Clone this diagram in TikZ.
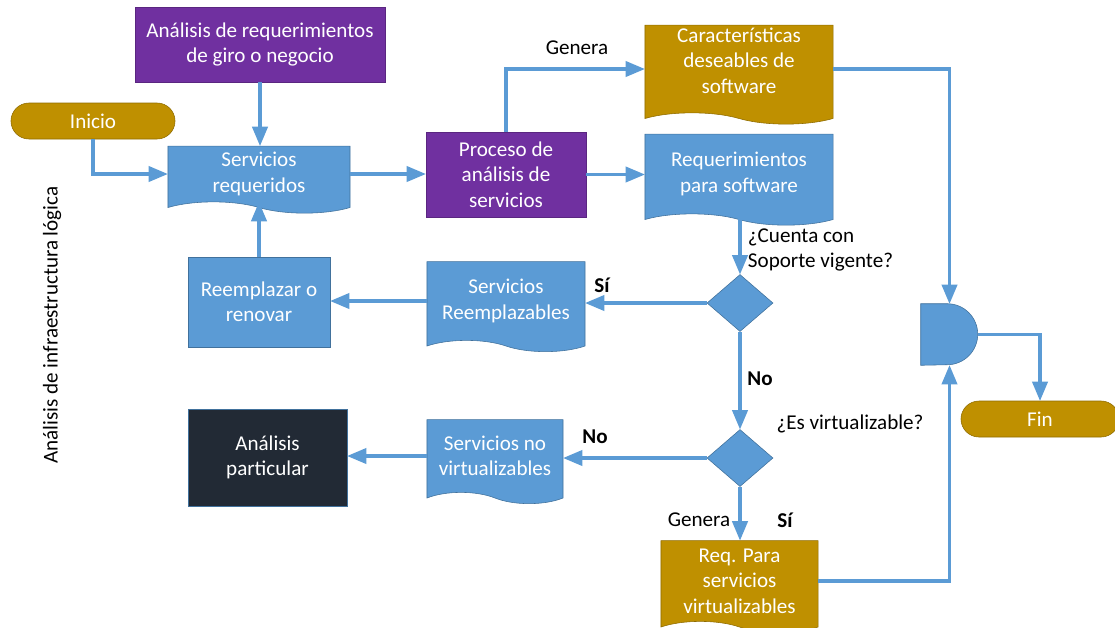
\documentclass[tikz,border=0pt]{standalone}
\usepackage{fontspec}
\setmainfont{Carlito}
\usetikzlibrary{arrows,shapes.geometric,shapes.symbols,positioning}
\definecolor{azul}{HTML}{5B9BD5}
\definecolor{azulborde}{HTML}{41719C}
\definecolor{morado}{HTML}{7030A0}
\definecolor{oro}{HTML}{BF9000}
\definecolor{oroborde}{HTML}{8F6C00}
\definecolor{oscuro}{HTML}{222A35}
\tikzset{
	>=triangle 45,
	caja/.style={
		rectangle,
		draw=azulborde,
		fill=azul,
		text=white,
		align=center,
		inner sep=2pt,
		font=\fontsize{15}{18}\selectfont},
	proceso/.style={caja, fill=morado, draw=morado!80!black},
	documento/.style={
		caja,
		tape,
		tape bend top=none,
		tape bend bottom=out and in,
		tape bend height=8pt},
	terminal/.style={
		caja,
		fill=oro,
		draw=oroborde,
		rounded corners=0.45cm,
		minimum width=4.1cm,
		minimum height=0.9cm},
	decision/.style={
		diamond,
		draw=azulborde,
		fill=azul,
		inner sep=0pt,
		minimum width=1.65cm,
		minimum height=1.425cm},
	linea/.style={draw=azul, line width=2.2pt, ->},
	etiqueta/.style={align=left, font=\fontsize{15}{18}\selectfont},
	negrita/.style={etiqueta, font=\fontsize{15}{18}\selectfont\bfseries},
}

\begin{document}
\begin{tikzpicture}[x=0.025cm, y=-0.025cm]
\useasboundingbox (0,0) rectangle (1115,627);

\node[proceso, minimum width=6.25cm, minimum height=1.875cm] (areq) at (260,44.5) {Análisis de requerimientos\\de giro o negocio};
\node[terminal] (inicio) at (93,121) {Inicio};
\node[documento, minimum width=4.55cm, minimum height=1.675cm] (sreq) at (259,174) {Servicios\\requeridos};
\node[proceso, minimum width=4cm, minimum height=2.125cm] (proc) at (506,174.5) {Proceso de\\análisis de\\servicios};
\node[documento, fill=oro, draw=oroborde, minimum width=4.7cm, minimum height=2cm] (carac) at (739,69) {Características\\deseables de\\software\\[-6pt]};
\node[documento, minimum width=4.7cm, minimum height=2.275cm] (reqsw) at (739,174) {Requerimientos\\para software};
\node[decision] (d1) at (740,303) {};
\node[documento, minimum width=3.95cm, minimum height=2.25cm] (srem) at (506,301) {Servicios\\Reemplazables};
\node[caja, minimum width=3.55cm, minimum height=2.25cm] (rren) at (259,302) {Reemplazar o\\renovar};
\node[decision] (d2) at (740,458) {};
\node[documento, minimum width=3.4cm, minimum height=2.1cm] (snv) at (495,456) {Servicios no\\virtualizables};
\node[caja, fill=oscuro, minimum width=3.975cm, minimum height=2.425cm] (apart) at (267.5,457.5) {Análisis\\particular};
\node[documento, fill=oro, draw=oroborde, minimum width=3.925cm, minimum height=2.3cm] (rpv) at (739.5,581) {Req. Para\\servicios\\virtualizables};
\node[minimum width=1.425cm, minimum height=1.525cm, inner sep=0pt] (gate) at (949.5,334.5) {};
\node[terminal, minimum width=3.95cm] (fin) at (1040,419) {Fin};

\fill[azul, draw=azulborde] (gate.south west) -- (gate.north west) -- ++(0.6625cm,0)
	arc[start angle=90, end angle=-90, radius=0.7625cm] -- cycle;

\node[etiqueta, rotate=90] (eje) at (52,325) {Análisis de infraestructura lógica};
\node[etiqueta] (genera1) at (577,48) {Genera};
\node[etiqueta, anchor=west] (cuenta) at (743,250) {¿Cuenta con\\Soporte vigente?};
\node[negrita] (si1) at (602,285) {Sí};
\node[negrita] (no1) at (760,379) {No};
\node[etiqueta] (esv) at (850,424) {¿Es virtualizable?};
\node[negrita] (no2) at (595,437) {No};
\node[etiqueta] (genera2) at (699,520) {Genera};
\node[negrita] (si2) at (785,520) {Sí};

\draw[linea] (areq.south) -- (areq.south |- sreq.north);
\draw[linea] (inicio.south) |- (sreq.west);
\draw[linea] (sreq.east) -- (sreq.east -| proc.west);
\draw[linea] (proc.north) |- (carac.west);
\draw[linea] (proc.east) -- (proc.east -| reqsw.west);
\draw[linea] (d1.north |- reqsw.south) -- (d1.north);
\draw[linea] (d1.west) -- (d1.west -| srem.east);
\draw[linea] (srem.west) -- (srem.west -| rren.east);
\draw[linea] (rren.north) -- (rren.north |- sreq.south);
\draw[linea] (d1.south) -- (d2.north);
\draw[linea] (d2.west) -- (d2.west -| snv.east);
\draw[linea] (snv.west) -- (snv.west -| apart.east);
\draw[linea] (d2.south) -- (d2.south |- rpv.north);
\draw[linea] (carac.east) -| (gate.north);
\draw[linea] (rpv.east) -| (gate.south);
\draw[linea] (gate.east) -| (fin.north);
\end{tikzpicture}
\end{document}
